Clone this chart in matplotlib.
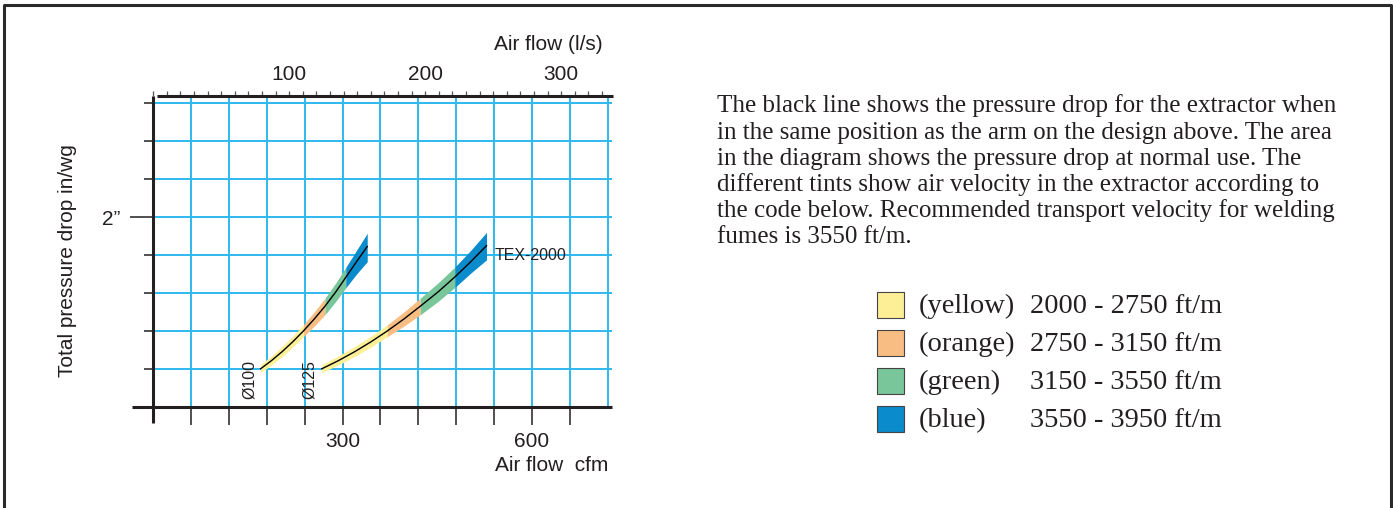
import numpy as np
import matplotlib
matplotlib.use("Agg")
import matplotlib.pyplot as plt
from matplotlib.lines import Line2D
from matplotlib.patches import Rectangle

# ---- data (cfm, in/wg) ----
d100_cfm = [170, 187, 204, 221, 238, 255, 272, 289, 305, 322, 339]
d100_mid = [0.40, 0.485, 0.58, 0.685, 0.80, 0.925, 1.06, 1.21, 1.365, 1.53, 1.69]
d100_hi = [0.445, 0.535, 0.635, 0.745, 0.865, 1.00, 1.145, 1.305, 1.47, 1.65, 1.83]
d100_lo = [0.36, 0.44, 0.53, 0.63, 0.74, 0.85, 0.97, 1.11, 1.255, 1.40, 1.53]
d100_edges = [170, 238, 272, 305, 339]

d125_cfm = [267, 293, 319, 345, 371, 397, 423, 451, 478, 503, 528]
d125_mid = [0.40, 0.485, 0.58, 0.685, 0.80, 0.925, 1.06, 1.21, 1.37, 1.53, 1.70]
d125_hi = [0.445, 0.535, 0.635, 0.745, 0.865, 1.00, 1.145, 1.305, 1.475, 1.65, 1.84]
d125_lo = [0.36, 0.44, 0.53, 0.63, 0.74, 0.85, 0.97, 1.11, 1.26, 1.41, 1.55]
d125_edges = [267, 371, 423, 478, 528]

tint_names = ["(yellow)", "(orange)", "(green)", "(blue)"]
tint_ranges = ["2000 - 2750 ft/m", "2750 - 3150 ft/m", "3150 - 3550 ft/m", "3550 - 3950 ft/m"]
tint_colors = ["#fcef96", "#f8bd83", "#78c69a", "#0a8bcb"]

cfm_labels = [300, 600]
ls_labels = [100, 200, 300]
LS_TO_CFM = 2.155

paragraph = [
    "The black line shows the pressure drop for the extractor when",
    "in the same position as the arm on the design above. The area",
    "in the diagram shows the pressure drop at normal use. The",
    "different tints show air velocity in the extractor according to",
    "the code below. Recommended transport velocity for welding",
    "fumes is 3550 ft/m.",
]

INK = "#231f20"
GRID = "#2db8ee"
W, H = 1393, 508

fig = plt.figure(figsize=(W / 100, H / 100), dpi=100)
ax = fig.add_axes([153.3 / W, (H - 406.7) / H, 458.8 / W, 310.8 / H])
ax.set_xlim(0, 727)
ax.set_ylim(0, 3.28)
for s in ax.spines.values():
    s.set_visible(False)

# grid
for x in np.arange(60, 721, 60):
    ax.axvline(x, color=GRID, lw=1.4, zorder=1)
for y in np.arange(0.4, 3.21, 0.4):
    ax.axhline(y, color=GRID, lw=1.4, zorder=1)

# tinted bands + black line
for cfm, mid, hi, lo, edges in [
    (d100_cfm, d100_mid, d100_hi, d100_lo, d100_edges),
    (d125_cfm, d125_mid, d125_hi, d125_lo, d125_edges),
]:
    idx = [cfm.index(e) for e in edges]
    for k, col in enumerate(tint_colors):
        sl = slice(idx[k], idx[k + 1] + 1)
        ax.fill_between(cfm[sl], lo[sl], hi[sl], color=col, lw=0, zorder=3)
    ax.plot(cfm, mid, color="black", lw=1.0, zorder=4)

# hand-drawn spines
sk = dict(transform=ax.transAxes, clip_on=False, color=INK, solid_capstyle="butt")
ax.plot([0, 0], [-0.0524, 1.0], lw=2.2, **sk)
ax.plot([-0.0464, 1.0], [0, 0], lw=2.2, **sk)
ax.plot([0.008, 1.002], [1, 1], lw=2.2, **sk)

# bottom ticks
xt = np.arange(60, 661, 60)
ax.set_xticks(xt)
ax.set_xticklabels([str(v) if v in cfm_labels else "" for v in xt])
ax.tick_params(axis="x", length=13, width=1.1, color=INK, pad=5,
               labelsize=15, labelcolor=INK)

# left ticks
ax.set_yticks([2.0])
ax.set_yticklabels(["2\u201d"])
ax.set_yticks([v for v in np.arange(0.4, 3.21, 0.4) if abs(v - 2.0) > 1e-6], minor=True)
ax.tick_params(axis="y", which="major", length=16.5, width=1.1, color=INK,
               pad=7, labelsize=15, labelcolor=INK)
ax.tick_params(axis="y", which="minor", length=6.5, width=1.1, color=INK)

for lab in ax.get_xticklabels() + ax.get_yticklabels():
    lab.set_fontfamily("Liberation Sans")

# top axis in l/s
top = ax.secondary_xaxis("top", functions=(lambda c: c / LS_TO_CFM, lambda l: l * LS_TO_CFM))
top.spines["top"].set_visible(False)
top.set_xticks(ls_labels)
top.set_xticks(np.arange(0, 331, 10), minor=True)
top.tick_params(which="both", length=3.6, width=0.9, color="#555555", pad=5,
                labelsize=15, labelcolor=INK)
for lab in top.get_xticklabels():
    lab.set_fontfamily("Liberation Sans")

sans = dict(family="Liberation Sans", color=INK)
ax.text(0.9795, 1.1638, "Air flow (l/s)", transform=ax.transAxes, ha="right",
        va="center", fontsize=15, **sans)
ax.text(0.991, -0.1876, "Air flow  cfm", transform=ax.transAxes, ha="right",
        va="center", fontsize=15, **sans)
ax.text(-0.186, 0.470, "Total pressure drop in/wg", transform=ax.transAxes,
        rotation=90, ha="center", va="center", fontsize=15, **sans)
ax.text(152.5, 0.282, "\u00d8100", rotation=90, ha="center", va="center",
        fontsize=11.5, **sans)
ax.text(246.7, 0.282, "\u00d8125", rotation=90, ha="center", va="center",
        fontsize=11.5, **sans)
ax.text(541, 1.594, "TEX-2000", ha="left", va="center", fontsize=11.5, **sans)

# paragraph
for i, line in enumerate(paragraph):
    fig.text(717 / W, 1 - (112.3 + 26.2 * i) / H, line, ha="left", va="baseline",
             fontsize=18, family="Liberation Serif", color=INK)

# colour key
for i, (nm, rg, col) in enumerate(zip(tint_names, tint_ranges, tint_colors)):
    top_px = 291.7 + 38 * i
    fig.add_artist(Rectangle((876.7 / W, 1 - (top_px + 26) / H), 27.6 / W, 26 / H,
                             transform=fig.transFigure, facecolor=col,
                             edgecolor="#444444", lw=0.8))
    fig.text(918.3 / W, 1 - (top_px + 21.6) / H, nm, ha="left", va="baseline",
             fontsize=20.5, family="Liberation Serif", color=INK)
    fig.text(1030 / W, 1 - (top_px + 21.6) / H, rg, ha="left", va="baseline",
             fontsize=20.5, family="Liberation Serif", color=INK)

# outer frame (left, top, right)
fk = dict(transform=fig.transFigure, color="#2a2a2a", lw=2.2)
fig.add_artist(Line2D([3.5 / W, 3.5 / W, 1390.5 / W, 1390.5 / W],
                      [0, 1 - 5 / H, 1 - 5 / H, 0], **fk))

fig.savefig("out.png", dpi=100)
